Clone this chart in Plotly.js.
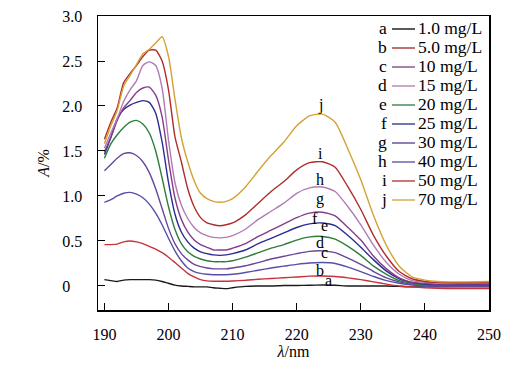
<!DOCTYPE html>
<html><head><meta charset="utf-8">
<script src="https://cdn.plot.ly/plotly-3.0.1.min.js"></script>
<style>html,body{margin:0;padding:0;background:#fff}</style>
</head><body><div id="chart" style="width:526px;height:373px"></div>
<script>
// ---- data ----
const wavelength = [190,191,192,193,194,195,196,197,198,199,200,201,202,203,204,205,206,207,208,209,210,212,214,216,218,220,222,224,226,228,230,232,234,236,238,240,242,245,250];
const seriesLetters = ['a','b','c','d','e','f','g','h','i','j'];
const seriesNames = ['1.0 mg/L','5.0 mg/L','10 mg/L','15 mg/L','20 mg/L','25 mg/L','30 mg/L','40 mg/L','50 mg/L','70 mg/L'];
const A_a = [0.07,0.06,0.05,0.065,0.07,0.07,0.07,0.07,0.065,0.05,0.03,0.01,0.0,-0.005,-0.01,-0.01,-0.01,-0.02,-0.025,-0.03,-0.02,-0.005,0.0,0.0,0.005,0.005,0.008,0.01,0.008,0.0,0.0,0.0,0.0,-0.005,-0.01,-0.01,-0.01,-0.01,-0.01];
const A_b = [0.46,0.46,0.465,0.49,0.50,0.49,0.47,0.44,0.41,0.37,0.32,0.26,0.20,0.14,0.10,0.07,0.057,0.053,0.053,0.053,0.056,0.063,0.074,0.083,0.092,0.10,0.109,0.11,0.105,0.09,0.07,0.045,0.02,0.0,-0.01,-0.02,-0.025,-0.03,-0.03];
const A_c = [0.93,0.96,1.00,1.03,1.04,1.02,0.98,0.91,0.81,0.68,0.53,0.39,0.28,0.20,0.16,0.14,0.13,0.125,0.125,0.125,0.13,0.15,0.175,0.20,0.22,0.24,0.255,0.26,0.25,0.21,0.16,0.105,0.06,0.03,0.01,0.0,0.0,0.0,0.0];
const A_d = [1.28,1.35,1.42,1.47,1.48,1.45,1.38,1.26,1.08,0.86,0.64,0.47,0.36,0.29,0.24,0.215,0.20,0.19,0.19,0.19,0.20,0.225,0.26,0.30,0.33,0.36,0.385,0.39,0.37,0.31,0.24,0.16,0.09,0.045,0.02,0.01,0.005,0.005,0.005];
const A_e = [1.42,1.58,1.68,1.76,1.82,1.84,1.80,1.70,1.50,1.20,0.88,0.63,0.47,0.38,0.33,0.30,0.28,0.27,0.27,0.27,0.28,0.32,0.37,0.42,0.46,0.51,0.545,0.55,0.52,0.44,0.34,0.22,0.13,0.06,0.03,0.015,0.01,0.01,0.01];
const A_f = [1.46,1.65,1.86,1.96,2.01,2.04,2.06,2.04,1.92,1.60,1.15,0.80,0.60,0.49,0.42,0.38,0.36,0.345,0.34,0.345,0.36,0.40,0.47,0.53,0.59,0.65,0.69,0.70,0.67,0.56,0.43,0.29,0.165,0.08,0.04,0.02,0.015,0.015,0.015];
const A_g = [1.49,1.65,1.84,1.98,2.06,2.15,2.20,2.21,2.12,1.88,1.40,0.98,0.74,0.60,0.51,0.46,0.43,0.40,0.40,0.40,0.42,0.47,0.55,0.62,0.69,0.76,0.81,0.82,0.78,0.65,0.51,0.33,0.19,0.09,0.04,0.03,0.02,0.02,0.02];
const A_h = [1.53,1.70,1.86,2.05,2.18,2.28,2.45,2.49,2.45,2.20,1.62,1.15,0.90,0.75,0.65,0.59,0.56,0.54,0.535,0.54,0.56,0.63,0.74,0.83,0.92,1.03,1.09,1.10,1.05,0.88,0.68,0.45,0.26,0.13,0.06,0.04,0.03,0.03,0.03];
const A_i = [1.63,1.82,1.98,2.26,2.36,2.45,2.55,2.62,2.62,2.50,2.18,1.66,1.38,1.08,0.88,0.76,0.70,0.68,0.67,0.68,0.70,0.79,0.92,1.05,1.16,1.29,1.37,1.38,1.32,1.10,0.85,0.56,0.33,0.16,0.08,0.05,0.04,0.035,0.035];
const A_j = [1.58,1.78,1.95,2.22,2.34,2.46,2.58,2.63,2.70,2.77,2.55,2.08,1.65,1.38,1.17,1.03,0.97,0.94,0.93,0.94,0.97,1.10,1.28,1.45,1.60,1.78,1.89,1.91,1.82,1.52,1.18,0.78,0.45,0.22,0.10,0.065,0.05,0.045,0.05];
const xTickVals = [190,200,210,220,230,240,250];
const xTickText = ['190','200','210','220','230','240','250'];
const yTickVals = [0,0.5,1.0,1.5,2.0,2.5,3.0];
const yTickText = ['0\u00a0\u00a0\u00a0','0.5','1.0','1.5','2.0','2.5','3.0'];

// ---- styles ----
const series = [A_a,A_b,A_c,A_d,A_e,A_f,A_g,A_h,A_i,A_j];
const lineColors = ['#1a1a1a','#c8323a','#5a4fa8','#67479a','#2f7d3c','#2a2c95','#853d8a','#b07cb6','#b02c2c','#d3a233'];
const legendColors = ['#000000','#a02828','#7a407a','#b07ab0','#2e7a3a','#2a2a88','#553b8a','#5548a6','#b02c2c','#d3a233'];
const labelXShift = [6,-2,2,-2,2,-7,-2,-2,-2,-2];
const labelYShift = [5,6,10,8,11,4,13,7,8.5,9.5];

const FONT = '"Liberation Serif", "Times New Roman", Times, serif';
const W = 526, H = 373;
const M = {l:98, r:37, t:16, b:63};
const pw = W - M.l - M.r, ph = H - M.t - M.b;
const px2x = p => (p - M.l) / pw;
const py2y = p => (H - M.b - p) / ph;

const traces = series.map((ys, k) => ({
  x: wavelength, y: ys, type: 'scatter', mode: 'lines',
  line: {color: lineColors[k], width: 1.4, shape: 'spline', smoothing: 0.6},
  showlegend: false, hoverinfo: 'skip'
}));

const annotations = [];
const shapes = [];
series.forEach((ys, k) => {
  // peak of the 224 nm band
  let best = -1;
  wavelength.forEach((w, idx) => { if (w >= 215 && (best < 0 || ys[idx] > ys[best])) best = idx; });
  annotations.push({x: wavelength[best], y: ys[best], xref:'x', yref:'y', text: seriesLetters[k],
    showarrow:false, xanchor:'center', yanchor:'middle', xshift: labelXShift[k], yshift: labelYShift[k],
    font:{family:FONT, size:16, color:'#000'}});
  // legend row
  const rowY = 28 + 19 * k;
  annotations.push({x: px2x(389), y: py2y(rowY), xref:'paper', yref:'paper', text: seriesLetters[k],
    showarrow:false, xanchor:'right', yanchor:'middle', font:{family:FONT, size:17.5, color:'#000'}});
  annotations.push({x: px2x(416), y: py2y(rowY), xref:'paper', yref:'paper', text: seriesNames[k],
    showarrow:false, xanchor:'left', yanchor:'middle', font:{family:FONT, size:17.5, color:'#000'}});
  shapes.push({type:'line', xref:'paper', yref:'paper', x0: px2x(392), x1: px2x(415), y0: py2y(rowY+1), y1: py2y(rowY+1),
    line:{color: legendColors[k], width:1.3}});
});

const axisCommon = {
  showline:true, linecolor:'#000', linewidth:1.5, mirror:true,
  showgrid:false, zeroline:false, ticks:'inside', ticklen:7, tickwidth:1, tickcolor:'#000',
  tickfont:{family:FONT, size:16, color:'#000'}, tickmode:'array'
};

const layout = {
  width: W, height: H, margin: M,
  paper_bgcolor:'#fff', plot_bgcolor:'#fff', showlegend:false,
  xaxis: Object.assign({}, axisCommon, {range:[189,250], tickvals:xTickVals, ticktext:xTickText, ticklabelstandoff:9,
    title:{text:'<i>λ</i>/nm', font:{family:FONT, size:16, color:'#000'}, standoff:4}}),
  yaxis: Object.assign({}, axisCommon, {range:[-0.267,3.0], tickvals:yTickVals, ticktext:yTickText, ticklabelstandoff:11,
    title:{text:'<i>A</i>/%', font:{family:FONT, size:16, color:'#000'}, standoff:8}}),
  annotations: annotations, shapes: shapes
};

Plotly.newPlot('chart', traces, layout, {staticPlot:true, displayModeBar:false});
</script></body></html>
